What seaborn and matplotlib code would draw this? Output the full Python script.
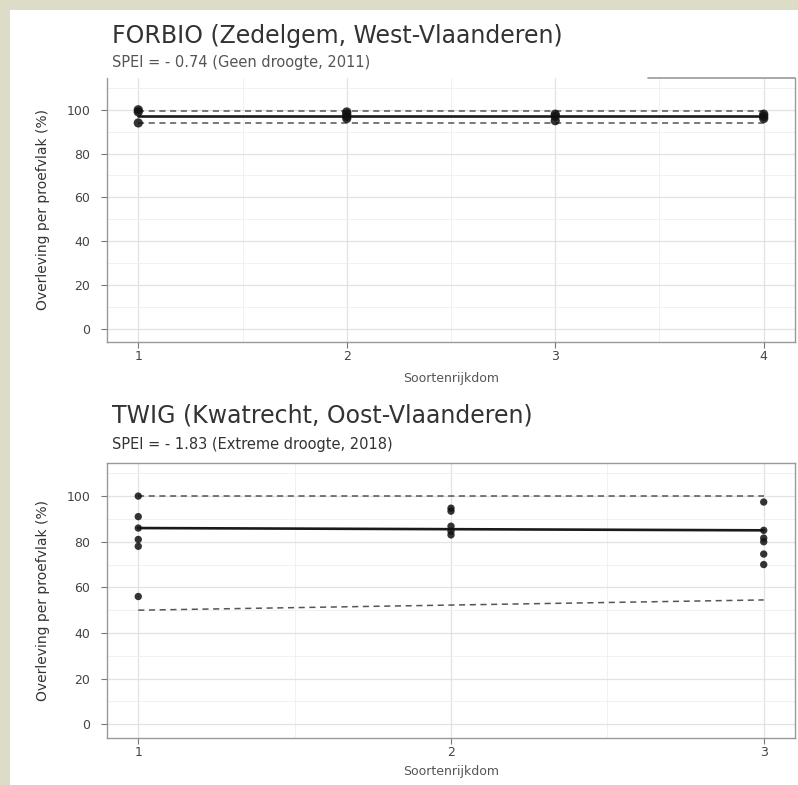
import numpy as np
import pandas as pd
import matplotlib
matplotlib.use("Agg")
import matplotlib.pyplot as plt
from matplotlib.patches import Rectangle
from matplotlib.ticker import MultipleLocator
import seaborn as sns

sns.set_theme(style="white")
plt.rcParams['font.family'] = ['DejaVu Sans']

# ---- data ----
forbio_richness = [1, 1, 1, 2, 2, 2, 2, 3, 3, 3, 4, 4, 4]
forbio_survival = [100, 99, 94, 99, 98, 97, 96, 98, 97, 95, 98, 97, 96]
forbio_fit_x = [1, 4]
forbio_fit = [97.3, 97.3]
forbio_lower = [94, 94]
forbio_upper = [99.6, 99.6]

twig_richness = [1, 1, 1, 1, 1, 1, 2, 2, 2, 2, 2, 3, 3, 3, 3, 3, 3]
twig_survival = [100, 91, 86, 81, 78, 56, 94.7, 93.4, 86.8, 84.6, 83, 97.4, 85, 81.6, 80, 74.6, 70]
twig_fit_x = [1, 3]
twig_fit = [86, 85]
twig_lower = [50, 54.5]
twig_upper = [100, 100]

y_ticks = [0, 20, 40, 60, 80, 100]

titles = ["FORBIO (Zedelgem, West-Vlaanderen)", "TWIG (Kwatrecht, Oost-Vlaanderen)"]
subtitles = ["SPEI = - 0.74 (Geen droogte, 2011)", "SPEI = - 1.83 (Extreme droogte, 2018)"]
xlabel = "Soortenrijkdom"
ylabel = "Overleving per proefvlak (%)"

W, H = 798, 785
fig = plt.figure(figsize=(W / 100, H / 100), dpi=100)
fig.patch.set_facecolor("#dddcc6")
fig.patches.append(Rectangle((10 / W, 0), 1, 1 - 10 / H, transform=fig.transFigure,
                             facecolor="white", edgecolor="none", zorder=-5))

def fy(px):
    return 1 - px / H

ax1 = fig.add_axes([107 / W, fy(342), (795 - 107) / W, (342 - 78) / H])
ax2 = fig.add_axes([107 / W, fy(738), (795 - 107) / W, (738 - 463) / H])

panels = [
    (ax1, forbio_richness, forbio_survival, forbio_fit_x, forbio_fit, forbio_lower, forbio_upper, 4, 44, 6),
    (ax2, twig_richness, twig_survival, twig_fit_x, twig_fit, twig_lower, twig_upper, 3, 28, 4),
]

for ax, xr, ys, fx, fit, lo, hi, xmax, ms, xlp in panels:
    ax.set_facecolor("white")
    ax.set_axisbelow(True)
    rng = xmax - 1
    ax.set_xlim(1 - 0.05 * rng, xmax + 0.05 * rng)
    ax.set_ylim(-6, 114.5)
    ax.xaxis.set_major_locator(MultipleLocator(1))
    ax.xaxis.set_minor_locator(MultipleLocator(0.5))
    ax.set_yticks(y_ticks)
    ax.yaxis.set_minor_locator(MultipleLocator(10))
    ax.grid(True, which="major", color="#e2e2e2", lw=0.9)
    ax.grid(True, which="minor", color="#efefef", lw=0.6)

    sns.lineplot(x=fx, y=hi, ax=ax, color="#555555", lw=1.1, linestyle=(0, (4, 3)), zorder=2)
    sns.lineplot(x=fx, y=lo, ax=ax, color="#555555", lw=1.1, linestyle=(0, (4, 3)), zorder=2)
    sns.lineplot(x=fx, y=fit, ax=ax, color="#1a1a1a", lw=1.9, zorder=3)
    sns.scatterplot(x=xr, y=ys, ax=ax, color="#111111", s=ms, edgecolor="none", alpha=0.85, zorder=4)

    ax.tick_params(axis="x", which="major", length=4, width=0.8, color="#777777",
                   labelsize=9, labelcolor="#444444", pad=2, direction="out", bottom=True)
    ax.tick_params(axis="y", which="major", length=4, width=0.8, color="#777777",
                   labelsize=9, labelcolor="#444444", pad=8, direction="out", left=True)
    ax.tick_params(axis="both", which="minor", length=0)
    ax.set_xlabel(xlabel, fontsize=9, color="#555555", labelpad=xlp)
    ax.set_ylabel(ylabel, fontsize=10, color="#333333", labelpad=12)
    for s in ax.spines.values():
        s.set_color("#999999")
        s.set_linewidth(1.0)

# top panel has only partial frame
ax1.spines["top"].set_visible(False)
ax1.axhline(114.5, xmin=0.786, xmax=1, color="#999999", lw=1.2, clip_on=False)

fig.text(112 / W, fy(36), titles[0], fontsize=17, color="#333333", va="center", ha="left")
fig.text(112 / W, fy(62), subtitles[0], fontsize=10.5, color="#555555", va="center", ha="left")
fig.text(112 / W, fy(416), titles[1], fontsize=17, color="#333333", va="center", ha="left")
fig.text(112 / W, fy(444), subtitles[1], fontsize=10.5, color="#333333", va="center", ha="left")

fig.savefig("out.png", dpi=100, facecolor=fig.get_facecolor())
